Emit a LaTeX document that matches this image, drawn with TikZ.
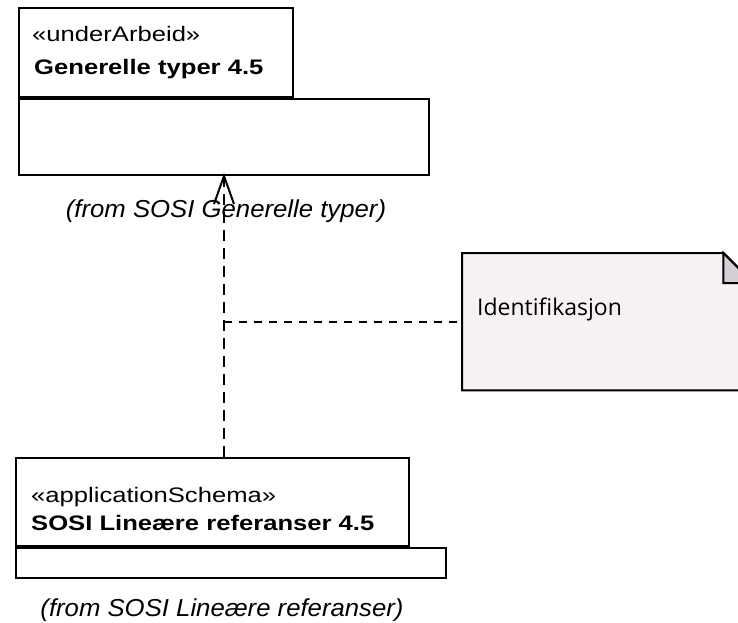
\documentclass[tikz,border=0pt]{standalone}
\usepackage{fontspec}
\usepackage{xcolor}
\usepackage{tikz}
\usetikzlibrary{arrows.meta,positioning,calc}
\newfontfamily\pkgfont{Liberation Sans}[FakeStretch=1.22]
\newfontfamily\fromfont{Liberation Sans}[FakeStretch=1.05]
\newfontfamily\notefont{Open Sans}
\definecolor{notefill}{RGB}{245,241,245}
\definecolor{notefold}{RGB}{210,206,212}

\begin{document}
\begin{tikzpicture}[x=1pt, y=-1pt,
	pkgbox/.style={draw, line width=2pt, fill=white, anchor=north west, inner sep=0pt},
	stereo/.style={anchor=base west, inner sep=0pt, font=\pkgfont\fontsize{21}{25}\selectfont},
	pkgname/.style={anchor=base west, inner sep=0pt, font=\pkgfont\bfseries\fontsize{21}{25}\selectfont},
	fromlbl/.style={anchor=base, inner sep=0pt, font=\fromfont\itshape\fontsize{24.5}{28}\selectfont},
	notebox/.style={draw, line width=2pt, line join=miter},
	notetxt/.style={anchor=base west, inner sep=0pt, font=\notefont\fontsize{23}{27}\selectfont},
	dep/.style={line width=2pt, dash pattern=on 11pt off 7pt},
	openhead/.style={line width=2pt, line join=miter},
	notelink/.style={line width=2pt, dash pattern=on 8pt off 7pt}]

	\useasboundingbox (0,0) rectangle (738,622);
	\clip (0,0) rectangle (738,622);

	% package Generelle typer
	\node[pkgbox, minimum width=274pt, minimum height=89pt] (genTab) at (18,7) {};
	\node[pkgbox, minimum width=410pt, minimum height=76pt] (genBody) at (genTab.south west) {};
	\node[stereo] (genStereo) at ([shift={(14,34)}]genTab.north west) {«underArbeid»};
	\node[pkgname] (genName) at ([shift={(16,67)}]genTab.north west) {Generelle typer 4.5};
	\node[fromlbl] (genFrom) at ([shift={(2,41)}]genBody.south) {(from SOSI Generelle typer)};

	% package Lineaere referanser
	\node[pkgbox, minimum width=393pt, minimum height=88pt] (linTab) at (15,457) {};
	\node[pkgbox, minimum width=430pt, minimum height=30pt] (linBody) at (linTab.south west) {};
	\node[stereo] (linStereo) at ([shift={(16,45)}]linTab.north west) {«applicationSchema»};
	\node[pkgname] (linName) at ([shift={(16,73)}]linTab.north west) {SOSI Lineære referanser 4.5};
	\node[fromlbl] (linFrom) at ([shift={(-9,37)}]linBody.south) {(from SOSI Lineære referanser)};

	% note
	\node[anchor=north west, minimum width=291pt, minimum height=137pt, inner sep=0pt] (note) at (462,253) {};
	\draw[notebox, fill=notefill] (note.north west) -- ($(note.north east)+(-30,0)$)
		-- ($(note.north east)+(0,30)$) -- (note.south east) -- (note.south west) -- cycle;
	\draw[notebox, fill=notefold] ($(note.north east)+(-30,0)$) -- ($(note.north east)+(-30,30)$)
		-- ($(note.north east)+(0,30)$) -- cycle;
	\node[notetxt] (noteText) at ([shift={(15,62)}]note.north west) {Identifikasjon};

	% connectors
	\draw[dep] (linTab.north -| genBody.south) -- (genBody.south);
	\draw[openhead] ($(genBody.south)+(-10,28)$) -- (genBody.south) -- ($(genBody.south)+(10,28)$);
	\coordinate (linkPt) at (genBody.south |- note.west);
	\draw[notelink] (linkPt) -- (note.west);

\end{tikzpicture}
\end{document}
